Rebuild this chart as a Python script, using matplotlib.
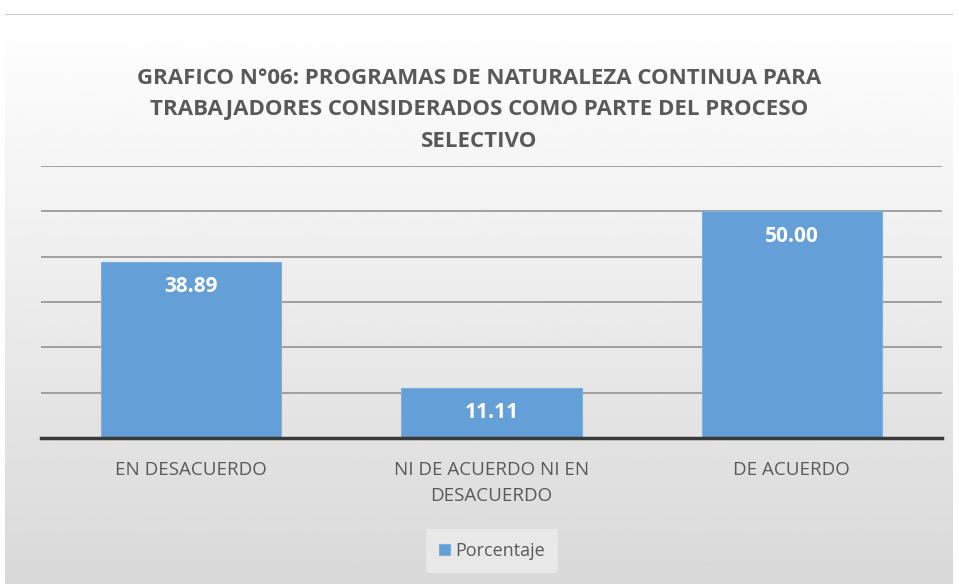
import numpy as np
import matplotlib.pyplot as plt

categories = ["EN DESACUERDO", "NI DE ACUERDO NI EN\nDESACUERDO", "DE ACUERDO"]
porcentaje = [38.89, 11.11, 50.00]
title = ("GRAFICO N°06: PROGRAMAS DE NATURALEZA CONTINUA PARA\n"
         "TRABAJADORES CONSIDERADOS COMO PARTE DEL PROCESO\nSELECTIVO")

plt.rcParams['font.family'] = ['Open Sans', 'DejaVu Sans']

fig = plt.figure(figsize=(9.59, 5.84), dpi=100)

# gradient background of chart area
bg = fig.add_axes([5 / 959, 0, 948 / 959, 1 - 14 / 584], zorder=-10)
grad = np.linspace(1.0, 0.85, 256).reshape(-1, 1)
bg.imshow(grad, aspect="auto", cmap="gray", vmin=0, vmax=1, extent=[0, 1, 0, 1])
bg.set_xlim(0, 1)
bg.set_ylim(0, 1)
bg.axis("off")
bg.plot([0, 1], [1, 1], color="#c8c8c8", lw=1.5)

ax = fig.add_axes([41 / 959, 1 - 438 / 584, 901 / 959, 272 / 584])
ax.set_facecolor("none")
x = np.arange(len(categories))
bars = ax.bar(x, porcentaje, width=0.6, color="#659fd7", edgecolor="#7db0e0",
              linewidth=0.8, zorder=3, label="Porcentaje")
ax.set_xlim(-0.5, 2.5)
ax.set_ylim(0, 60)
ax.set_yticks(np.arange(0, 61, 10))
ax.yaxis.grid(True, color="#9a9a9a", lw=1.3, zorder=0)
ax.tick_params(left=False, labelleft=False, bottom=False)
for s in ["left", "right", "top"]:
    ax.spines[s].set_visible(False)
ax.spines["bottom"].set_color("#3a3a3a")
ax.spines["bottom"].set_linewidth(2.5)
ax.spines["bottom"].set_zorder(4)
ax.set_xticks(x)
ax.set_xticklabels(categories, fontsize=13.5, color="#595959", linespacing=1.6)
ax.tick_params(axis="x", pad=13)

for b, v in zip(bars, porcentaje):
    ax.annotate(f"{v:.2f}", (b.get_x() + b.get_width() / 2, v), xytext=(0, -18),
                textcoords="offset points", ha="center", va="center",
                color="white", fontsize=15, fontweight="bold", zorder=5)

fig.text(0.5, 1 - 110 / 584, title, ha="center", va="center", fontsize=16,
         fontweight="bold", color="#595959", linespacing=1.65)

leg = fig.legend(handles=[bars], labels=["Porcentaje"], loc="center",
                 bbox_to_anchor=(492 / 959, 1 - 551 / 584), frameon=True,
                 fontsize=13, handlelength=0.6, handleheight=0.6,
                 handletextpad=0.3, borderpad=0.7)
leg.get_frame().set_facecolor("#ececec")
leg.get_frame().set_edgecolor("none")
for t in leg.get_texts():
    t.set_color("#595959")

fig.savefig("out.png", dpi=100)
